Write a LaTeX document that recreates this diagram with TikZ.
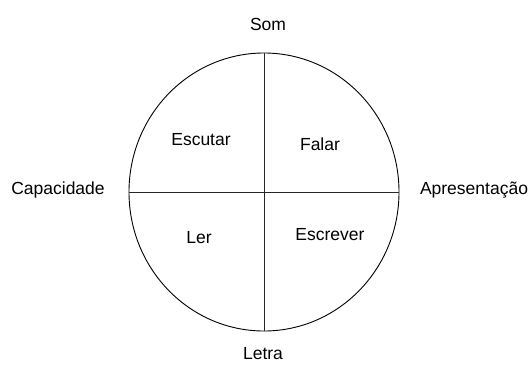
\documentclass[tikz,border=0pt]{standalone}
\usepackage{fontspec}
\setmainfont{Liberation Sans}
\usetikzlibrary{shapes.geometric, positioning}
\tikzset{
  wheel/.style={
    draw, ellipse, line width=0.9bp,
    minimum width=270bp, minimum height=278bp,
    inner sep=0pt, outer sep=0pt
  },
  axis line/.style={
    draw=black!85, line width=0.9bp
  },
  axis label/.style={
    font=\fontsize{17.5bp}{20bp}\selectfont, inner sep=0pt
  },
  skill/.style={
    font=\fontsize{17.5bp}{20bp}\selectfont, inner sep=0pt
  },
}
\begin{document}
\begin{tikzpicture}[x=1bp, y=-1bp]

  % Canvas
  \useasboundingbox (0,0) rectangle (532,365);

  % Circle
  \node[wheel] (wheel) at (264,192) {};

  % Axes
  \draw[axis line] (wheel.north) -- (wheel.south);
  \draw[axis line] (wheel.west) -- (wheel.east);

  % Axis labels
  \node[axis label] (som) at (268,24) {Som};
  \node[axis label] (letra) at (263,354) {Letra};
  \node[axis label] (capac) at (58,190) {Capacidade};
  \node[axis label] (apres) at (474,190) {Apresentação};

  % Quadrants
  \node[skill] (escutar) at (201,140) {Escutar};
  \node[skill] (falar) at (320,144) {Falar};
  \node[skill] (ler) at (199,238) {Ler};
  \node[skill] (escrever) at (330,235) {Escrever};

\end{tikzpicture}
\end{document}
